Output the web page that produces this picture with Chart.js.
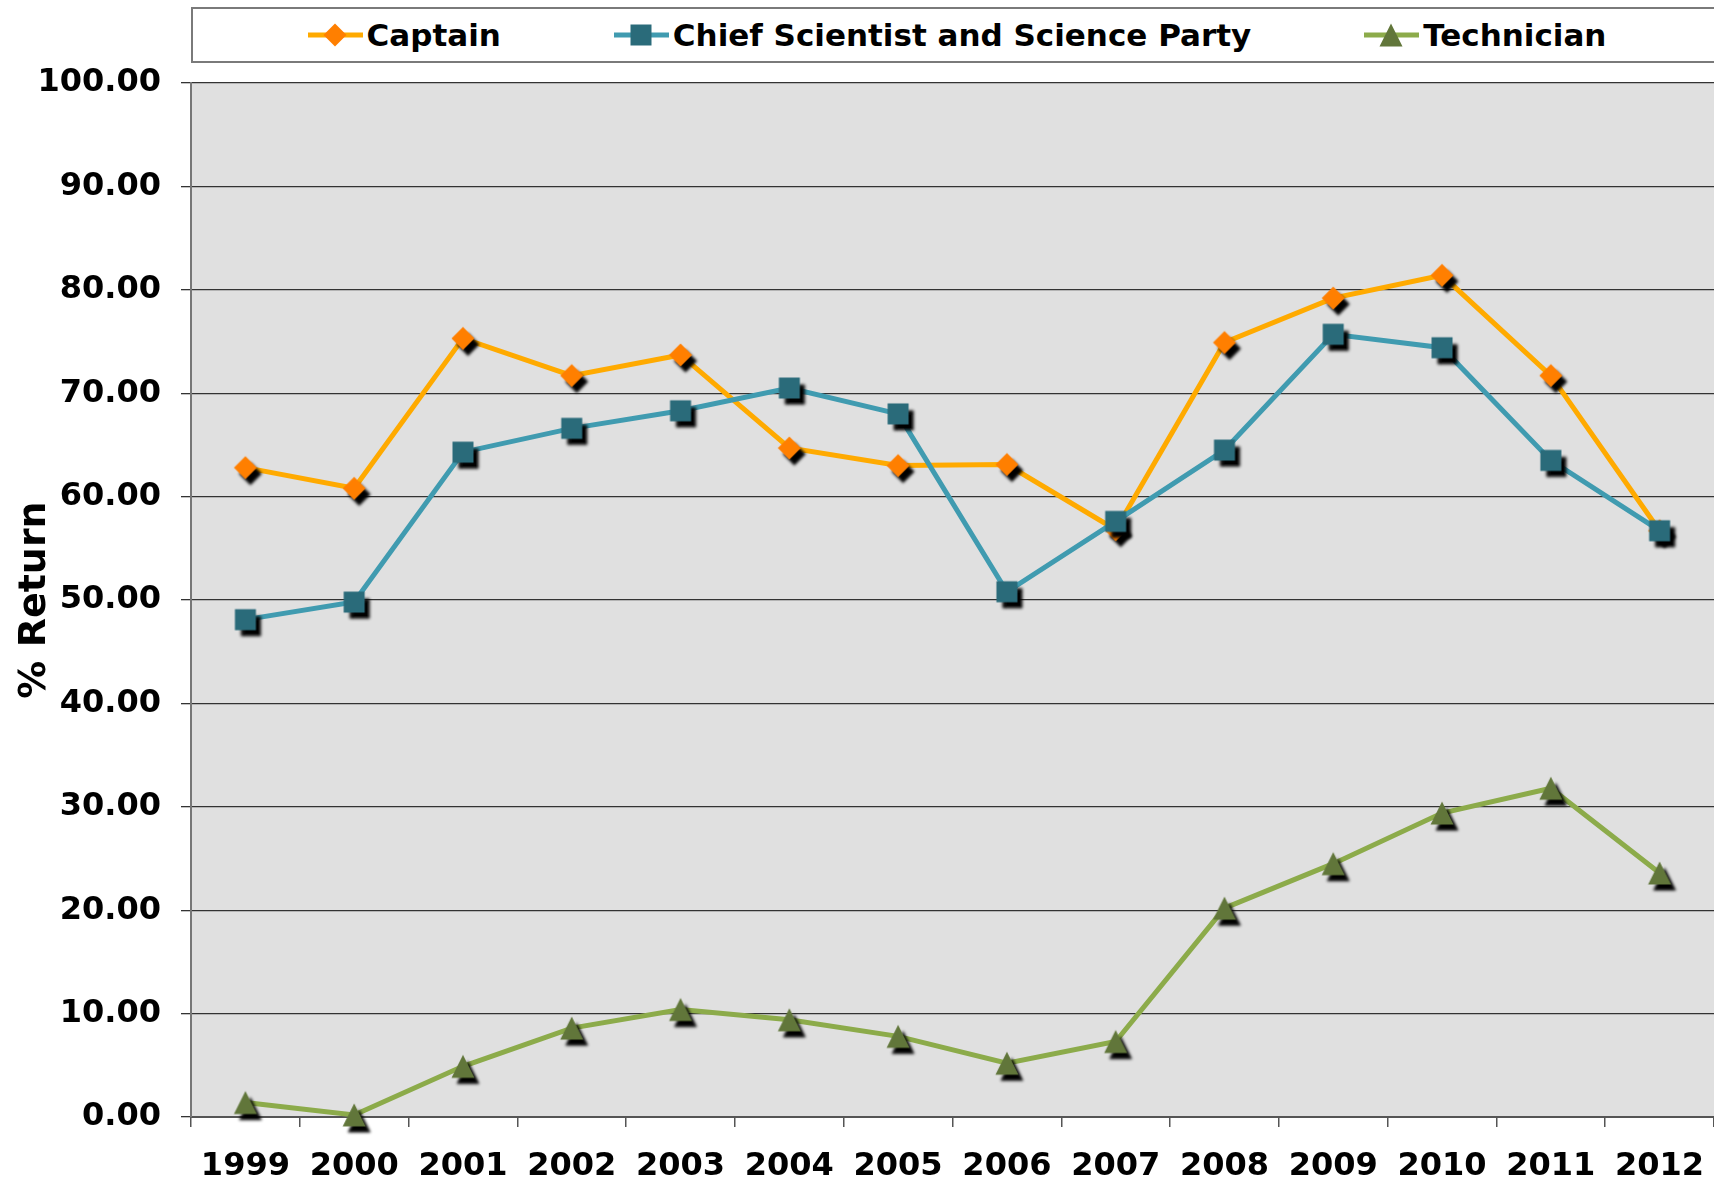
<!DOCTYPE html>
<html>
<head>
<meta charset="utf-8">
<script src="https://cdn.jsdelivr.net/npm/chart.js@4.4.1/dist/chart.umd.min.js"></script>
<style>
  html, body { margin: 0; padding: 0; background: #fff; overflow: hidden; }
  #wrap { position: relative; width: 1714px; height: 1186px; }
  #chart { display: block; }
  #legend {
    position: absolute; left: 191px; top: 7px; width: 1532px; height: 56px;
    box-sizing: border-box; border: 2px solid #7a7a7a; background: #fff;
    display: flex; align-items: center; justify-content: center; gap: 113px;
    font: bold 31px "DejaVu Sans", Verdana, sans-serif; color: #000;
  }
  .item { display: flex; align-items: center; gap: 4px; white-space: nowrap; }
  .item canvas { display: block; }
</style>
</head>
<body>
<div id="wrap">
  <canvas id="chart" width="1714" height="1186"></canvas>
  <div id="legend"></div>
</div>
<script>
// data
const years = ['1999', '2000', '2001', '2002', '2003', '2004', '2005', '2006', '2007', '2008', '2009', '2010', '2011', '2012'];
const captain = [62.8, 60.8, 75.3, 71.7, 73.7, 64.7, 63.0, 63.1, 56.8, 74.9, 79.2, 81.4, 71.7, 56.7];
const chiefScience = [48.1, 49.8, 64.3, 66.6, 68.3, 70.5, 68.0, 50.8, 57.6, 64.5, 75.7, 74.4, 63.5, 56.7];
const technician = [1.4, 0.2, 4.9, 8.6, 10.4, 9.4, 7.8, 5.2, 7.3, 20.2, 24.5, 29.4, 31.8, 23.6];
const yMin = 0, yMax = 100, yStep = 10;

const FONT = '"DejaVu Sans", Verdana, sans-serif';

// marker drawn into a small canvas, optionally with the black drop shadow
function markerCanvas(shape, fill, shadow) {
    const c = document.createElement('canvas');
    c.width = shadow ? 50 : 26;
    c.height = shadow ? 50 : 26;
    const g = c.getContext('2d');
    if (shadow) {
        g.shadowColor = '#000';
        g.shadowOffsetX = 5;
        g.shadowOffsetY = 6;
        g.shadowBlur = 3;
    }
    g.fillStyle = fill;
    g.translate(c.width / 2, c.height / 2);
    g.beginPath();
    if (shape === 'diamond') {
        g.moveTo(0, -11.5); g.lineTo(11.5, 0); g.lineTo(0, 11.5); g.lineTo(-11.5, 0);
    } else if (shape === 'square') {
        g.rect(-10.5, -10.5, 21, 21);
    } else {
        g.moveTo(0, -11.5); g.lineTo(11.5, 11.5); g.lineTo(-11.5, 11.5);
    }
    g.closePath();
    g.fill();
    return c;
}

const series = [
    { name: 'Captain', data: captain, line: '#FFAA00', fill: '#FF7F00', shape: 'diamond', order: 2 },
    { name: 'Chief Scientist and Science Party', data: chiefScience, line: '#409BB0', fill: '#2A6B7A', shape: 'square', order: 1 },
    { name: 'Technician', data: technician, line: '#8CAB4A', fill: '#61763A', shape: 'triangle', order: 0 }
];

const plotBackground = {
    id: 'plotBackground',
    beforeDraw(chart) {
        const { ctx, chartArea: a } = chart;
        ctx.save();
        ctx.fillStyle = '#E0E0E0';
        ctx.fillRect(a.left, a.top, a.right - a.left, a.bottom - a.top);
        ctx.restore();
    }
};

new Chart(document.getElementById('chart'), {
    type: 'line',
    data: {
        labels: years,
        datasets: series.map(s => ({
            label: s.name,
            data: s.data,
            order: s.order,
            borderColor: s.line,
            backgroundColor: s.fill,
            borderWidth: 5,
            tension: 0,
            pointStyle: markerCanvas(s.shape, s.fill, true),
            pointRadius: 10,
            pointHoverRadius: 10,
            clip: false
        }))
    },
    options: {
        responsive: false,
        animation: false,
        // plot runs a little past the right edge, like the original
        layout: { autoPadding: false, padding: { top: 83, bottom: 0, left: 0, right: -3 } },
        plugins: {
            legend: { display: false },
            tooltip: { enabled: false }
        },
        scales: {
            x: {
                offset: true,
                afterFit: scale => { scale.height = 69; scale.paddingRight = 0; scale.paddingLeft = 0; },
                grid: { offset: true, drawOnChartArea: false, tickLength: 10, color: '#555', lineWidth: 1.5 },
                border: { color: '#555', width: 2 },
                ticks: {
                    color: '#000', padding: 20, maxRotation: 0, autoSkip: false,
                    font: { family: FONT, size: 32, weight: 'bold' }
                }
            },
            y: {
                min: yMin,
                max: yMax,
                afterFit: scale => { scale.width = 191; },
                grid: { color: '#333', lineWidth: 1.3, tickLength: 10 },
                border: { color: '#777', width: 2 },
                ticks: {
                    stepSize: yStep, color: '#000', padding: 20,
                    font: { family: FONT, size: 32, weight: 'bold' },
                    callback: v => v.toFixed(2)
                },
                title: {
                    display: true, text: '% Return', color: '#000',
                    font: { family: FONT, size: 38, weight: 'bold' },
                    padding: { top: 12, bottom: 0 }
                }
            }
        }
    },
    plugins: [plotBackground]
});

// legend: line segment with marker, then label
const legend = document.getElementById('legend');
series.forEach(s => {
    const item = document.createElement('div');
    item.className = 'item';
    const icon = document.createElement('canvas');
    icon.width = 55; icon.height = 26;
    const g = icon.getContext('2d');
    g.strokeStyle = s.line;
    g.lineWidth = 5;
    g.beginPath(); g.moveTo(0, 13); g.lineTo(55, 13); g.stroke();
    g.drawImage(markerCanvas(s.shape, s.fill, false), 14, 0);
    const text = document.createElement('span');
    text.textContent = s.name;
    item.appendChild(icon);
    item.appendChild(text);
    legend.appendChild(item);
});
</script>
</body>
</html>
